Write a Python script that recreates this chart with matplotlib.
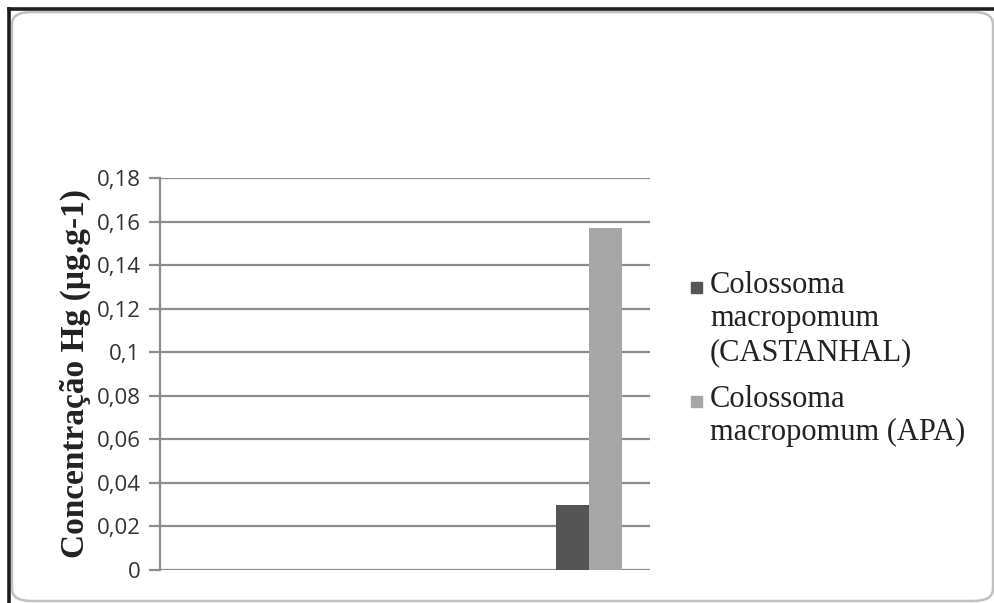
import numpy as np
import matplotlib
matplotlib.use("Agg")
import matplotlib.pyplot as plt
from matplotlib.patches import FancyBboxPatch, Rectangle
from matplotlib.lines import Line2D
from matplotlib.ticker import FuncFormatter

# Data
categories = ["", "", "", ""]
castanhal = [np.nan, np.nan, np.nan, 0.030]
apa = [np.nan, np.nan, np.nan, 0.157]
series_labels = ["Colossoma\nmacropomum\n(CASTANHAL)", "Colossoma\nmacropomum (APA)"]
series_colors = ["#555555", "#a6a6a6"]
yticks = [0, 0.02, 0.04, 0.06, 0.08, 0.1, 0.12, 0.14, 0.16, 0.18]

W, H = 995, 603
fig = plt.figure(figsize=(W / 100, H / 100), dpi=100)
fig.patch.set_facecolor("white")

def fx(px):
    return px / W

def fy(py):
    return 1 - py / H

# chart frame: rounded light-gray box with dark top/left edges
fig.patches.append(FancyBboxPatch((fx(12), fy(601)), fx(981), 589 / H,
                                  boxstyle="round,pad=0,rounding_size=0.02",
                                  transform=fig.transFigure, fill=False,
                                  edgecolor="#c0c0c0", linewidth=1.8))
fig.lines.append(Line2D([fx(9), fx(9)], [fy(9), fy(603)], transform=fig.transFigure,
                        color="#1e1e1e", linewidth=2.6))
fig.lines.append(Line2D([fx(9), fx(995)], [fy(9), fy(9)], transform=fig.transFigure,
                        color="#1e1e1e", linewidth=2.6))

ax = fig.add_axes([fx(160), fy(570), 490 / W, 392 / H])
x = np.arange(len(categories))
w = 0.27
ax.bar(x - w / 2, castanhal, w, color=series_colors[0], zorder=3)
ax.bar(x + w / 2, apa, w, color=series_colors[1], zorder=3)

ax.set_xlim(-0.5, len(categories) - 0.5)
ax.set_ylim(0, 0.18)
ax.set_yticks(yticks)
ax.yaxis.set_major_formatter(FuncFormatter(lambda v, p: ("%g" % round(v, 2)).replace(".", ",")))
ax.set_xticks([])
ax.grid(axis="y", color="#8c8c8c", linewidth=1.6, zorder=0)
for s in ["top", "right", "bottom"]:
    ax.spines[s].set_visible(False)
ax.spines["left"].set_color("#8c8c8c")
ax.spines["left"].set_linewidth(1.6)
ax.tick_params(axis="y", length=8, width=1.6, color="#8c8c8c", pad=6,
               labelsize=16, labelcolor="#333333")
for lab in ax.get_yticklabels():
    lab.set_family("Open Sans")

ax.set_ylabel("Concentração Hg (µg.g-1)", fontfamily="Liberation Serif",
              fontweight="bold", fontsize=24, color="#222222", labelpad=4)

# legend: square marker beside the first line of each entry
entry_tops = [271, 385]
for label, color, top in zip(series_labels, series_colors, entry_tops):
    fig.patches.append(Rectangle((fx(691), fy(top + 22)), 11 / W, 11 / H,
                                 transform=fig.transFigure, color=color))
    fig.text(fx(710), fy(top), label, ha="left", va="top",
             fontfamily="Liberation Serif", fontsize=22, color="#222222",
             linespacing=1.2)

fig.savefig("out.png", dpi=100)
